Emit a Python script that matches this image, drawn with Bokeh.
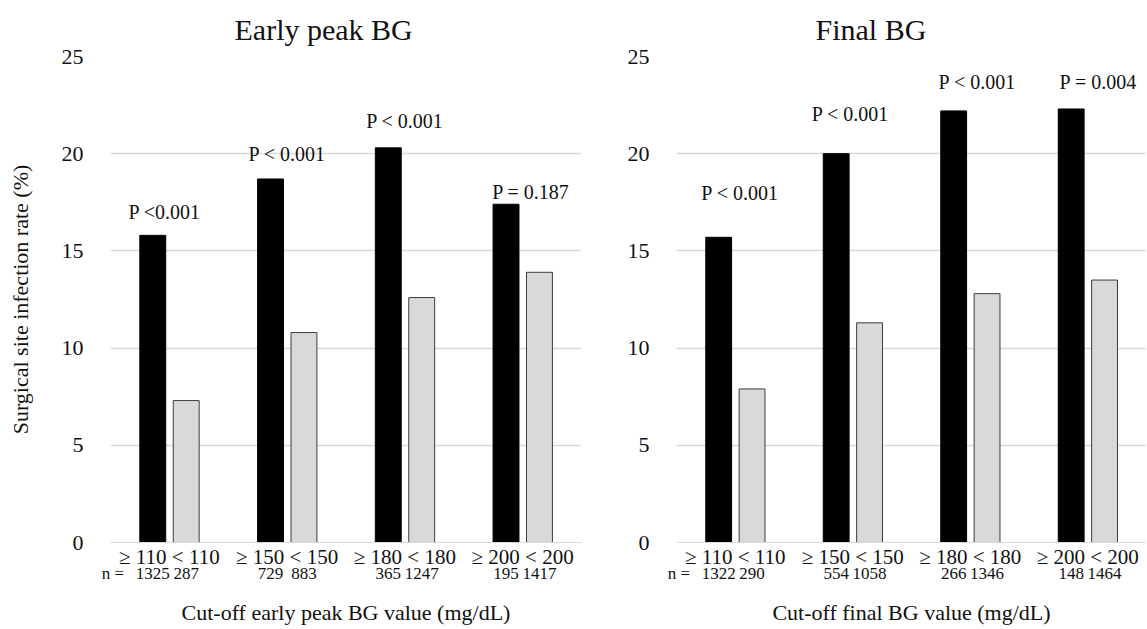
from bokeh.plotting import figure
from bokeh.layouts import row
from bokeh.models import FixedTicker, LinearAxis, CustomJSTickFormatter, Range1d, ColumnDataSource
from bokeh.core.properties import value
from bokeh.embed import file_html
from bokeh.resources import INLINE

# ---- data ----
groups = [0, 1, 2, 3]
early_cats = ["≥ 110 < 110", "≥ 150 < 150", "≥ 180 < 180", "≥ 200 < 200"]
final_cats = ["≥ 110 < 110", "≥ 150 < 150", "≥ 180 < 180", "≥ 200 < 200"]

early_above = [15.8, 18.7, 20.3, 17.4]
early_below = [7.3, 10.8, 12.6, 13.9]
early_n_above = ["1325", "729", "365", "195"]
early_n_below = ["287", "883", "1247", "1417"]
early_p = ["P <0.001", "P < 0.001", "P < 0.001", "P = 0.187"]

final_above = [15.7, 20.0, 22.2, 22.3]
final_below = [7.9, 11.3, 12.8, 13.5]
final_n_above = ["1322", "554", "266", "148"]
final_n_below = ["290", "1058", "1346", "1464"]
final_p = ["P < 0.001", "P < 0.001", "P < 0.001", "P = 0.004"]

y_ticks = [0, 5, 10, 15, 20, 25]

# ---- layout (annotation placement) ----
early_p_y = [17.0, 20.0, 21.7, 18.05]
early_p_dx = [-0.04, 0.0, 0.0, 0.07]
final_p_y = [18.0, 22.05, 23.7, 23.7]
final_p_dx = [0.04, -0.02, 0.06, 0.09]

FONT = "Liberation Serif"
TXT = "#111111"
OFF_A = -0.141
OFF_B = 0.143
BW = 0.22


def make_panel(title, cats, above, below, n_above, n_below, pvals, p_y, p_dx,
               xlabel, ylabel, min_left, min_right, fwidth, title_offset):
    p = figure(frame_width=fwidth, frame_height=486, output_backend="svg",
               toolbar_location=None, x_range=Range1d(-0.5, 3.5),
               y_range=Range1d(0, 25), min_border_left=min_left,
               min_border_right=min_right, min_border_top=56,
               min_border_bottom=0)
    p.outline_line_color = None
    p.background_fill_color = "white"
    p.border_fill_color = "white"

    p.title.text = title
    p.title.text_font = FONT
    p.title.text_font_size = "30px"
    p.title.text_font_style = "normal"
    p.title.text_color = TXT
    p.title.align = "left"
    p.title.offset = title_offset
    p.title.standoff = 21

    xa = [g + OFF_A for g in groups]
    xb = [g + OFF_B for g in groups]
    p.vbar(x=xa, top=above, width=BW, fill_color="black", line_color="black")
    p.vbar(x=xb, top=below, width=BW, fill_color="#d9d9d9",
           line_color="#3c3c3c", line_width=1)

    src = ColumnDataSource(dict(x=[g + d for g, d in zip(groups, p_dx)], y=p_y, t=pvals))
    p.text(x="x", y="y", text="t", source=src, text_font=value(FONT),
           text_font_size="20px", text_align="center", text_baseline="middle",
           text_color=TXT)

    # y axis
    ya = p.yaxis[0]
    ya.ticker = FixedTicker(ticks=y_ticks)
    ya.axis_line_color = None
    ya.major_tick_line_color = None
    ya.minor_tick_line_color = None
    ya.major_label_text_font = FONT
    ya.major_label_text_font_size = "22px"
    ya.major_label_text_color = TXT
    ya.major_label_standoff = 21
    if ylabel:
        ya.axis_label = ylabel
        ya.axis_label_text_font = FONT
        ya.axis_label_text_font_size = "22px"
        ya.axis_label_text_font_style = "normal"
        ya.axis_label_text_color = TXT
        ya.axis_label_standoff = 26
    p.ygrid.ticker = FixedTicker(ticks=y_ticks)
    p.ygrid.grid_line_color = "#d9d9d9"
    p.ygrid.grid_line_width = 1.3
    p.xgrid.visible = False

    # x axis 1: category labels
    xa1 = p.xaxis[0]
    xa1.ticker = FixedTicker(ticks=groups)
    xa1.formatter = CustomJSTickFormatter(args=dict(pos=groups, labels=cats), code="""
        let best = 0, d = 1e9;
        for (let i = 0; i < pos.length; i++) { const e = Math.abs(tick - pos[i]); if (e < d) { d = e; best = i; } }
        return labels[best];
    """)
    xa1.axis_line_color = "#d9d9d9"
    xa1.major_tick_line_color = None
    xa1.minor_tick_line_color = None
    xa1.major_label_text_font = FONT
    xa1.major_label_text_font_size = "21px"
    xa1.major_label_text_color = TXT
    xa1.major_label_standoff = -4

    # x axis 2: n values
    npos = [-0.48]
    nlab = ["n ="]
    for g, a, b in zip(groups, n_above, n_below):
        npos += [g + OFF_A, g + OFF_B]
        nlab += [a, b]
    xa2 = LinearAxis(ticker=FixedTicker(ticks=npos))
    xa2.formatter = CustomJSTickFormatter(args=dict(pos=npos, labels=nlab), code="""
        let best = 0, d = 1e9;
        for (let i = 0; i < pos.length; i++) { const e = Math.abs(tick - pos[i]); if (e < d) { d = e; best = i; } }
        return labels[best];
    """)
    xa2.axis_line_color = None
    xa2.major_tick_line_color = None
    xa2.minor_tick_line_color = None
    xa2.major_label_text_font = FONT
    xa2.major_label_text_font_size = "17px"
    xa2.major_label_text_color = TXT
    xa2.major_label_standoff = -14
    xa2.axis_label = xlabel
    xa2.axis_label_text_font = FONT
    xa2.axis_label_text_font_size = "22px"
    xa2.axis_label_text_font_style = "normal"
    xa2.axis_label_text_color = TXT
    xa2.axis_label_standoff = 14
    p.add_layout(xa2, "below")
    return p


p1 = make_panel("Early peak BG", early_cats, early_above, early_below,
                early_n_above, early_n_below, early_p, early_p_y, early_p_dx,
                "Cut-off early peak BG value (mg/dL)",
                "Surgical site infection rate (%)", 110, 10, 471, 124)
p2 = make_panel("Final BG", final_cats, final_above, final_below,
                final_n_above, final_n_below, final_p, final_p_y, final_p_dx,
                "Cut-off final BG value (mg/dL)", None, 85, 0, 470, 139)

layout = row(p1, p2)
open("out.html", "w").write(file_html(layout, INLINE))
